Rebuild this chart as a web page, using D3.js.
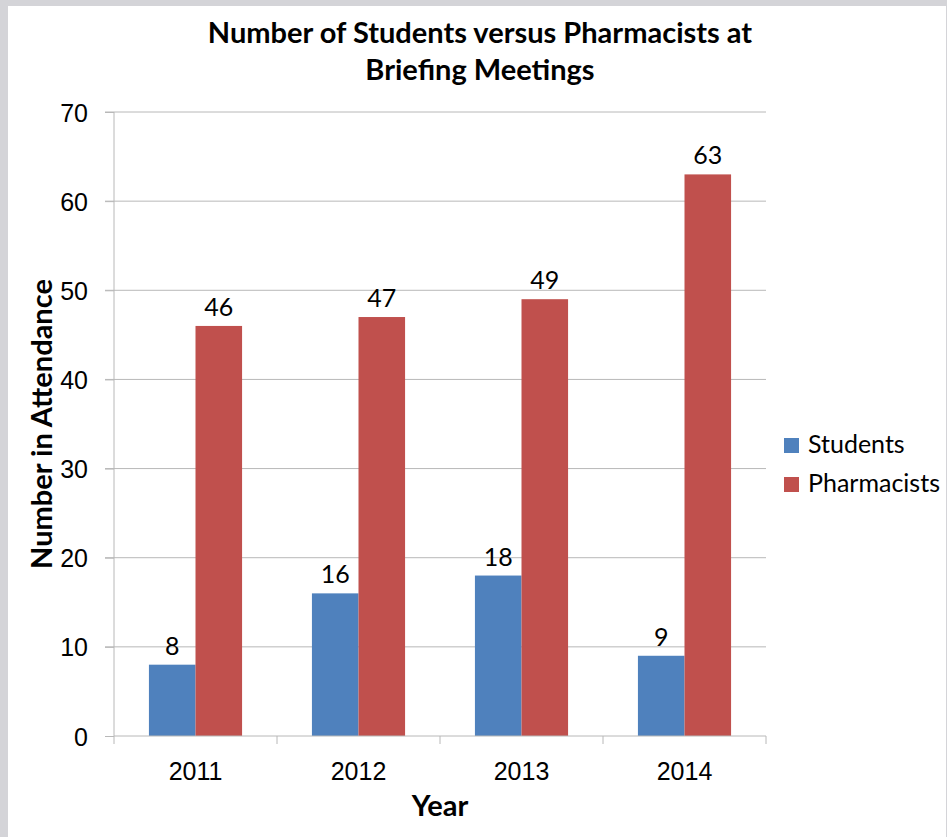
<!DOCTYPE html>
<html>
<head>
<meta charset="utf-8">
<script src="https://cdn.jsdelivr.net/npm/d3@7"></script>
<style>
  body { margin: 0; background: #d4d4d8; }
  svg { display: block; font-family: Lato, "Open Sans", sans-serif; }
</style>
</head>
<body>
<div id="chart"></div>
<script>
// data
const years = ["2011", "2012", "2013", "2014"];
const seriesNames = ["Students", "Pharmacists"];
const students = [8, 16, 18, 9];
const pharmacists = [46, 47, 49, 63];
const yTicks = [0, 10, 20, 30, 40, 50, 60, 70];
const colors = ["#4F81BD", "#C0504D"];

const W = 947, H = 837;
const margin = { top: 112, left: 114, right: 181, bottom: 101 };
const width = W - margin.left - margin.right;
const height = H - margin.top - margin.bottom;

const svg = d3.select("#chart").append("svg")
    .attr("width", W)
    .attr("height", H);

// slide frame
svg.append("rect").attr("width", W).attr("height", H).attr("fill", "#d4d4d8");
svg.append("rect").attr("x", 8).attr("y", 6).attr("width", W - 9).attr("height", H - 6).attr("fill", "#fff");

const g = svg.append("g")
    .attr("transform", `translate(${margin.left},${margin.top})`);

// scales
const x0 = d3.scaleBand().domain(years).range([0, width]).paddingInner(0).paddingOuter(0);
const x1 = d3.scaleBand().domain(seriesNames).range([0, x0.bandwidth()]).paddingInner(0).paddingOuter(0.75);
const y = d3.scaleLinear().domain([0, 70]).range([height, 0]);

// gridlines
g.selectAll(".grid").data(yTicks.slice(1)).enter().append("line")
    .attr("x1", -9).attr("x2", width)
    .attr("y1", d => y(d)).attr("y2", d => y(d))
    .attr("stroke", "#b8b8b8").attr("stroke-width", 1);

// bars
const data = years.map((yr, i) => ({ year: yr, values: [
    { name: "Students", v: students[i] },
    { name: "Pharmacists", v: pharmacists[i] }
]}));

const groups = g.selectAll(".grp").data(data).enter().append("g")
    .attr("transform", d => `translate(${x0(d.year)},0)`);

groups.selectAll("rect").data(d => d.values).enter().append("rect")
    .attr("x", d => x1(d.name))
    .attr("y", d => y(d.v))
    .attr("width", x1.bandwidth())
    .attr("height", d => height - y(d.v))
    .attr("fill", (d, i) => colors[i]);

groups.selectAll(".lbl").data(d => d.values).enter().append("text")
    .attr("x", d => x1(d.name) + x1.bandwidth() / 2)
    .attr("y", d => y(d.v) - 10)
    .attr("text-anchor", "middle")
    .style("font-size", "25px")
    .attr("fill", "#000")
    .text(d => d.v);

// y axis
const yAxis = g.append("g")
    .call(d3.axisLeft(y).tickValues(yTicks).tickSize(9).tickPadding(17));
yAxis.select(".domain").attr("stroke", "#b8b8b8").attr("d", `M0,0V${height}`);
yAxis.selectAll(".tick line").attr("stroke", "#b8b8b8");
yAxis.selectAll("text").style("font-size", "25px").attr("fill", "#000").attr("dy", "0.36em");

// x axis
const xAxis = g.append("g")
    .attr("transform", `translate(0,${height})`)
    .call(d3.axisBottom(x0).tickSize(0).tickPadding(26));
xAxis.select(".domain").attr("stroke", "#b8b8b8").attr("d", `M0,0H${width}`);
xAxis.selectAll("text").style("font-size", "25px").attr("fill", "#000");
g.selectAll(".xtick").data(d3.range(years.length + 1)).enter().append("line")
    .attr("x1", i => i * x0.bandwidth()).attr("x2", i => i * x0.bandwidth())
    .attr("y1", height).attr("y2", height + 8)
    .attr("stroke", "#b8b8b8");

// title
svg.append("text")
    .attr("x", 480).attr("y", 43)
    .attr("text-anchor", "middle")
    .style("font-size", "29px").style("font-weight", "bold")
    .text("Number of Students versus Pharmacists at");
svg.append("text")
    .attr("x", 480).attr("y", 80)
    .attr("text-anchor", "middle")
    .style("font-size", "29px").style("font-weight", "bold")
    .text("Briefing Meetings");

// axis titles
svg.append("text")
    .attr("transform", "translate(52,424) rotate(-90)")
    .attr("text-anchor", "middle")
    .style("font-size", "29px").style("font-weight", "bold")
    .text("Number in Attendance");
svg.append("text")
    .attr("x", 440).attr("y", 816)
    .attr("text-anchor", "middle")
    .style("font-size", "29px").style("font-weight", "bold")
    .text("Year");

// legend
const legend = svg.selectAll(".legend").data(seriesNames).enter().append("g")
    .attr("transform", (d, i) => `translate(784,${438 + i * 39})`);
legend.append("rect").attr("width", 15).attr("height", 15).attr("fill", (d, i) => colors[i]);
legend.append("text")
    .attr("x", 24).attr("y", 15)
    .style("font-size", "25px")
    .text(d => d);
</script>
</body>
</html>
